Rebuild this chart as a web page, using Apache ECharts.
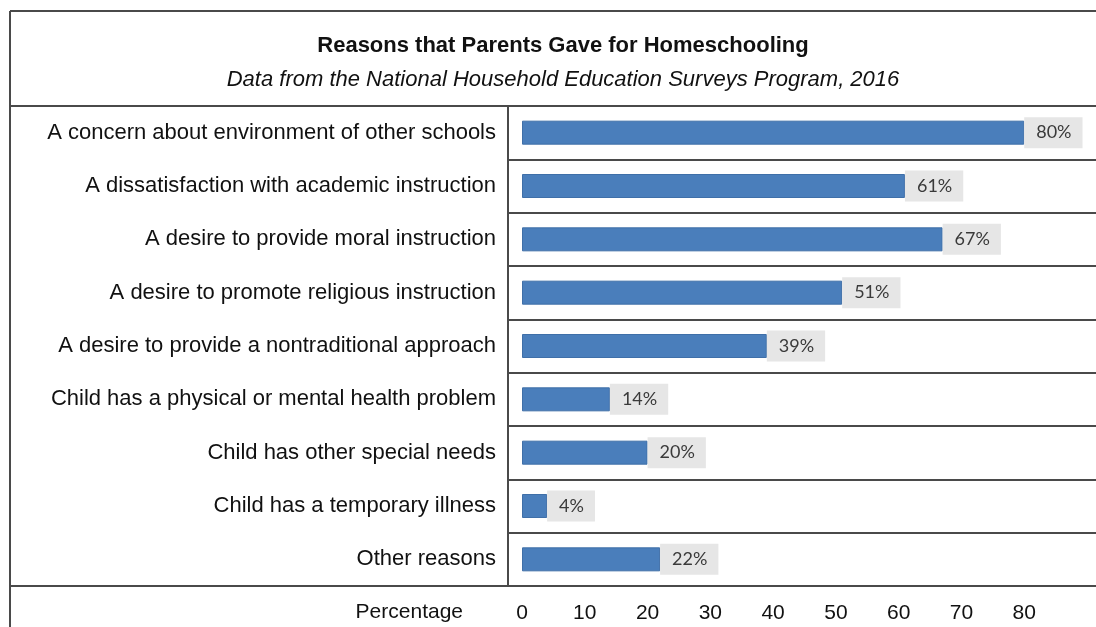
<!DOCTYPE html>
<html>
<head>
<meta charset="utf-8">
<script src="https://cdn.jsdelivr.net/npm/echarts@6/dist/echarts.min.js"></script>
<style>
  html, body { margin: 0; padding: 0; background: #fff; }
  #chart { width: 1096px; height: 627px; }
</style>
</head>
<body>
<div id="chart"></div>
<script>
const reasons = [
  'A concern about environment of other schools',
  'A dissatisfaction with academic instruction',
  'A desire to provide moral instruction',
  'A desire to promote religious instruction',
  'A desire to provide a nontraditional approach',
  'Child has a physical or mental health problem',
  'Child has other special needs',
  'Child has a temporary illness',
  'Other reasons'
]
const percents = [80, 61, 67, 51, 39, 14, 20, 4, 22]
const axisTicks = [0, 10, 20, 30, 40, 50, 60, 70, 80]

const lineColor = '#4a4a4a'
const font = 'Liberation Sans, Arial, sans-serif'

let chart = echarts.init(document.getElementById('chart'))

const option = {
  animation: false,
  title: {
    text: 'Reasons that Parents Gave for Homeschooling',
    subtext: 'Data from the National Household Education Surveys Program, 2016',
    left: 558,
    top: 30,
    textAlign: 'center',
    itemGap: 12,
    textStyle: { fontFamily: font, fontSize: 22, fontWeight: 'bold', color: '#111' },
    subtextStyle: { fontFamily: font, fontSize: 22, fontStyle: 'italic', color: '#111' }
  },
  grid: [
    // bars
    { left: 522, top: 106, width: 565, height: 480 },
    // table lines on the right side
    { left: 508, right: 0, top: 106, height: 480 }
  ],
  xAxis: [
    {
      type: 'value',
      gridIndex: 0,
      min: 0,
      max: 90,
      interval: 10,
      axisLine: { show: false },
      axisTick: { show: false },
      splitLine: { show: false },
      axisLabel: {
        margin: 17,
        fontFamily: font,
        fontSize: 21,
        color: '#111',
        formatter: v => axisTicks.indexOf(v) >= 0 ? String(v) : ''
      }
    },
    { type: 'value', gridIndex: 1, show: false }
  ],
  yAxis: [
    {
      type: 'category',
      gridIndex: 0,
      inverse: true,
      data: reasons,
      axisLine: { show: false },
      axisTick: { show: false },
      axisLabel: { margin: 26, fontFamily: font, fontSize: 22, color: '#111', padding: [7, 0, 0, 0] }
    },
    {
      type: 'category',
      gridIndex: 1,
      inverse: true,
      data: reasons,
      axisLine: { show: true, lineStyle: { color: lineColor, width: 2 } },
      axisTick: { show: false },
      axisLabel: { show: false },
      splitLine: { show: true, lineStyle: { color: lineColor, width: 2 } }
    }
  ],
  series: [
    {
      type: 'bar',
      xAxisIndex: 0,
      yAxisIndex: 0,
      data: percents,
      barWidth: 24,
      itemStyle: { color: '#4a7ebb', borderColor: '#3f6fa8', borderWidth: 1 },
      label: {
        show: true,
        position: 'right',
        distance: 0,
        formatter: '{c}%',
        backgroundColor: '#e6e6e6',
        padding: [7, 11, 6, 12],
        fontFamily: 'Lato, Open Sans, sans-serif',
        fontSize: 18,
        color: '#3a3a3a'
      }
    }
  ],
  graphic: [
    { type: 'line', shape: { x1: 10, y1: 11, x2: 1096, y2: 11 }, style: { stroke: lineColor, lineWidth: 2 } },
    { type: 'line', shape: { x1: 10, y1: 11, x2: 10, y2: 627 }, style: { stroke: lineColor, lineWidth: 2 } },
    { type: 'line', shape: { x1: 10, y1: 106, x2: 1096, y2: 106 }, style: { stroke: lineColor, lineWidth: 2 } },
    { type: 'line', shape: { x1: 10, y1: 586, x2: 1096, y2: 586 }, style: { stroke: lineColor, lineWidth: 2 } },
    {
      type: 'text',
      x: 463,
      y: 612,
      style: {
        text: 'Percentage',
        font: '21px ' + font,
        fill: '#111',
        textAlign: 'right',
        textVerticalAlign: 'middle'
      }
    }
  ]
}

chart.setOption(option)
</script>
</body>
</html>
